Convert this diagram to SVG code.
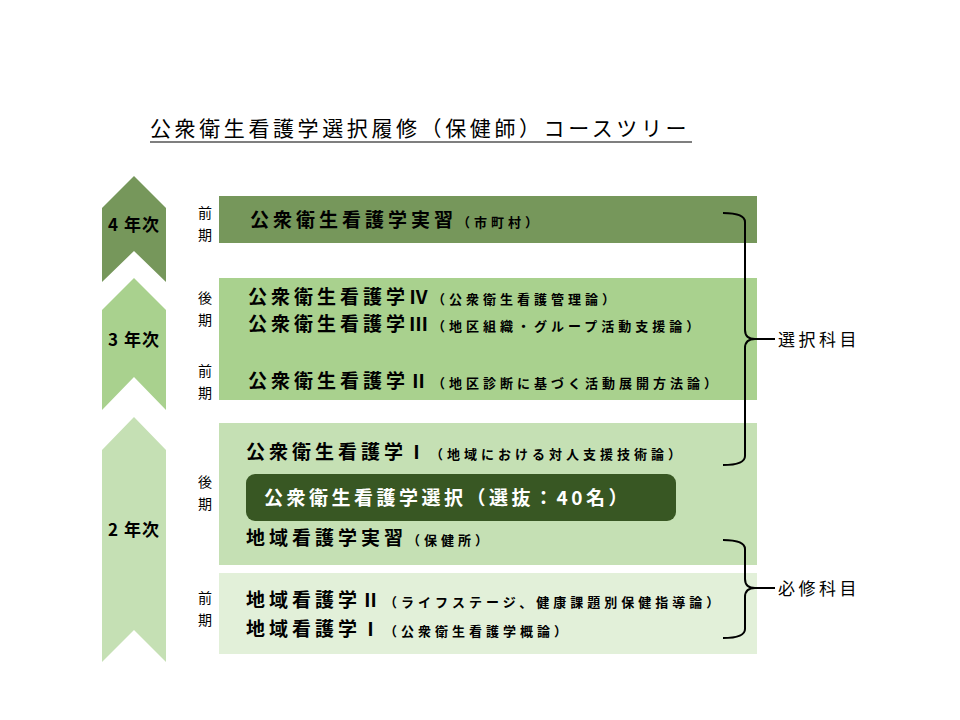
<svg xmlns="http://www.w3.org/2000/svg" width="960" height="720" viewBox="0 0 960 720">
<style>
text{font-family:"Noto Sans CJK JP","Noto Sans CJK SC",sans-serif;fill:#000}
.yr{font-size:17px;font-weight:bold;letter-spacing:1px}
.tm{font-size:14px}
.m{font-size:19px;font-weight:bold;letter-spacing:4px}
.s{font-size:13px;font-weight:bold;letter-spacing:4px}
.br{fill:none;stroke:#000;stroke-width:2}
</style>
<rect width="960" height="720" fill="#fff"/>
<g id="title">
<text x="150" y="136" font-size="21" letter-spacing="3.6">公衆衛生看護学選択履修（保健師）コースツリー</text>
<line x1="150" y1="142" x2="692" y2="142" stroke="#000" stroke-width="1.2"/>
</g>
<g id="year4"><polygon points="102,208 134,176 166,208 166,282 134,251 102,282" fill="#76975b"/><text class="yr" x="134" y="231" text-anchor="middle">4 年次</text></g>
<g id="year3"><polygon points="102,310 134,278 166,310 166,410 134,377 102,410" fill="#a9d18e"/><text class="yr" x="134" y="346" text-anchor="middle">3 年次</text></g>
<g id="year2"><polygon points="102,450 134,417 166,450 166,662 134,630 102,662" fill="#c5e0b4"/><text class="yr" x="134" y="536" text-anchor="middle">2 年次</text></g>
<g id="terms">
<text class="tm" x="198" y="218">前</text><text class="tm" x="198" y="240">期</text>
<text class="tm" x="198" y="303">後</text><text class="tm" x="198" y="325">期</text>
<text class="tm" x="198" y="376">前</text><text class="tm" x="198" y="398">期</text>
<text class="tm" x="198" y="487">後</text><text class="tm" x="198" y="509">期</text>
<text class="tm" x="198" y="603">前</text><text class="tm" x="198" y="625">期</text>
</g>
<g id="box4"><rect x="219" y="196" width="538" height="47" fill="#76975b"/><text x="250" y="227"><tspan class="m">公衆衛生看護学実習</tspan><tspan class="s">（市町村）</tspan></text></g>
<g id="box3"><rect x="219" y="278" width="538" height="122" fill="#a9d18e"/>
<text x="248" y="304"><tspan class="m">公衆衛生看護学Ⅳ</tspan><tspan class="s">（公衆衛生看護管理論）</tspan></text>
<text x="248" y="331"><tspan class="m">公衆衛生看護学Ⅲ</tspan><tspan class="s">（地区組織・グループ活動支援論）</tspan></text>
<text x="248" y="388"><tspan class="m">公衆衛生看護学Ⅱ</tspan><tspan class="s">（地区診断に基づく活動展開方法論）</tspan></text></g>
<g id="box2b"><rect x="219" y="423" width="538" height="142" fill="#c5e0b4"/>
<text x="246" y="459"><tspan class="m">公衆衛生看護学Ⅰ</tspan><tspan class="s">（地域における対人支援技術論）</tspan></text>
<text x="246" y="545"><tspan class="m">地域看護学実習</tspan><tspan class="s">（保健所）</tspan></text></g>
<g id="select"><rect x="246" y="474" width="430" height="47" rx="9" fill="#385723"/><text x="264" y="505" font-size="19" font-weight="bold" letter-spacing="3.5" style="fill:#fff">公衆衛生看護学選択（選抜：40名）</text></g>
<g id="box2a"><rect x="219" y="573" width="538" height="81" fill="#e2f0d9"/>
<text x="246" y="607"><tspan class="m">地域看護学Ⅱ</tspan><tspan class="s" letter-spacing="2.5">（ライフステージ、健康課題別保健指導論）</tspan></text>
<text x="246" y="636"><tspan class="m">地域看護学Ⅰ</tspan><tspan class="s">（公衆衛生看護学概論）</tspan></text></g>
<g id="connectors">
<path class="br" d="M723,213 Q745,213 745,222 L745,330 Q745,339 755,339 Q745,339 745,348 L745,456 Q745,465 723,465"/>
<line x1="755" y1="339" x2="775" y2="339" stroke="#000" stroke-width="2"/>
<path class="br" d="M723,540 Q745,540 745,549 L745,579 Q745,588 755,588 Q745,588 745,597 L745,629 Q745,638 723,638"/>
<line x1="755" y1="588" x2="775" y2="588" stroke="#000" stroke-width="2"/>
</g>
<g id="labels"><text x="778" y="346" font-size="17" letter-spacing="3.5">選択科目</text><text x="778" y="595" font-size="17" letter-spacing="3.5">必修科目</text></g>
</svg>
